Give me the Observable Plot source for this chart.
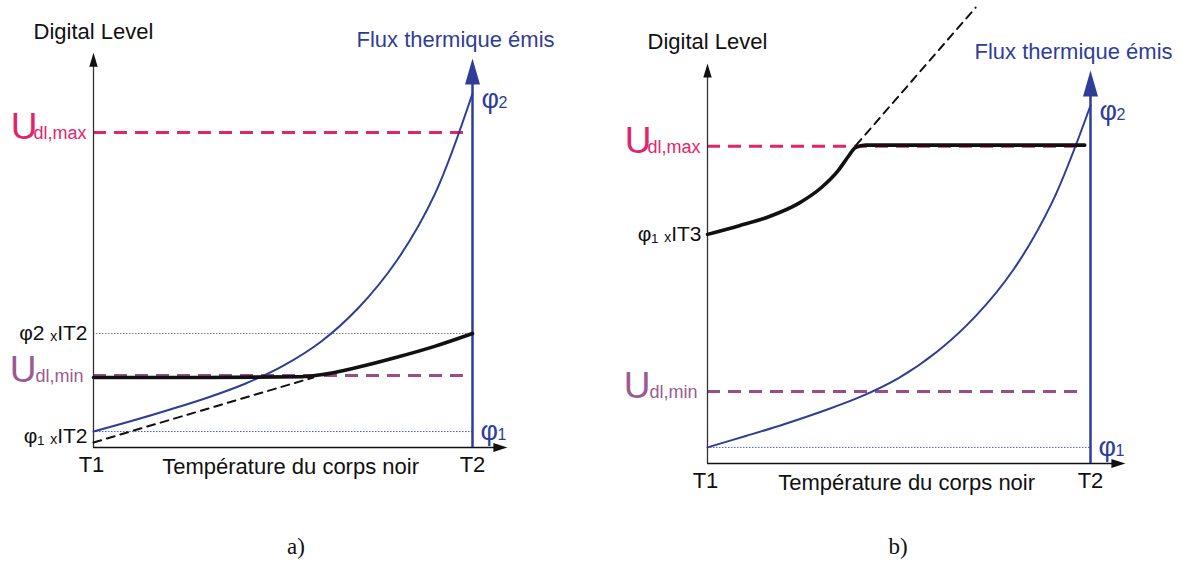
<!DOCTYPE html>
<html><head><meta charset="utf-8">
<script src="https://cdn.jsdelivr.net/npm/d3@7"></script>
<script src="https://cdn.jsdelivr.net/npm/@observablehq/plot@0.6"></script>
<style>
body{margin:0;background:#fff;}
#fig{position:relative;width:1181px;height:570px;background:#fff;}
.panel{position:absolute;top:0;}
.cap{position:absolute;top:534px;font-family:"Liberation Serif","Times New Roman",serif;font-size:23px;transform:translateX(-50%);color:#111;}
</style></head><body>
<div id="fig">
  <div id="pa" class="panel" style="left:0"></div>
  <div id="pb" class="panel" style="left:590px"></div>
  <div class="cap" style="left:296px">a)</div>
  <div class="cap" style="left:898px">b)</div>
</div>
<script>
// ---- data (x: T1 = 0 .. T2 = 1, y: relative digital level / flux) ----
const tGrid = [0, 0.1, 0.2, 0.3, 0.4, 0.5, 0.6, 0.7, 0.8, 0.9, 1];
const fluxA = [0.041, 0.068, 0.097, 0.128, 0.164, 0.21, 0.272, 0.36, 0.48, 0.65, 0.91];
const fluxB = [0.041, 0.07, 0.10, 0.133, 0.17, 0.218, 0.285, 0.375, 0.495, 0.665, 0.911];

const blackAT = [0, 0.3, 0.55, 0.6, 0.7, 0.8, 0.9, 1];
const blackAV = [0.18, 0.18, 0.182, 0.187, 0.207, 0.232, 0.26, 0.293];
const dashAT = [0, 0.58];
const dashAV = [0.013, 0.18];

const blackBT = [0, 0.083, 0.16, 0.238, 0.296, 0.34, 0.369, 0.386, 0.413, 0.985];
const blackBV = [0.583, 0.605, 0.628, 0.662, 0.701, 0.744, 0.783, 0.804, 0.81, 0.81];
const dashBT = [0.388, 0.70];
const dashBV = [0.81, 1.16];

const udlMaxA = 0.81, phi2IT2A = 0.293, udlMinA = 0.185, phi1A = 0.041;
const udlMaxB = 0.807, phi1IT3B = 0.583, udlMinB = 0.183, phi1B = 0.041;

const tickLabels = ["T1", "T2"];
const xTitle = "Température du corps noir";
const yTitle = "Digital Level";
const fluxTitle = "Flux thermique émis";

const PINK = "#e2246c", PURPLE = "#9a4c8d", PURPLE_T = "#9b5a93", BLUE = "#2f3d98", BLUEDOT = "#3d55c8", GRAY = "#7a7a7a";
const FONT = "Liberation Sans, Arial, sans-serif";

function pts(t, v) { return t.map((x, i) => ({x, y: v[i]})); }
function txt(x, y, text, o = {}) {
  return Plot.text([{x, y, text}], {x: "x", y: "y", text: "text", fontFamily: FONT, fontSize: 22, fill: "#111", ...o});
}
function tip(x, y, o) {
  return Plot.vector([{x, y}], {x: "x", y: "y", shape: "spike", anchor: "end", stroke: "none", ...o});
}

function drawPanel(p) {
  const marks = [
    ...p.dotted.map(d => Plot.ruleY([d.v], {x1: 0, x2: 1, stroke: d.c, strokeWidth: 1, strokeDasharray: "1.5,1.5"})),
    Plot.ruleY([p.udlMax], {x1: 0, x2: p.dashEnd, stroke: PINK, strokeWidth: 3, strokeDasharray: "13,8"}),
    Plot.ruleY([p.udlMin], {x1: 0, x2: p.dashEnd, stroke: PURPLE, strokeWidth: 3, strokeDasharray: "13,8"}),
    Plot.ruleX([0], {y1: 0, y2: p.yTip - 0.02, stroke: "#333", strokeWidth: 1.3}),
    Plot.ruleY([0], {x1: 0, x2: p.xTip - 0.02, stroke: "#111", strokeWidth: 1.6}),
    tip(0, p.yTip, {rotate: 0, length: 14, r: 4.2, fill: "#111"}),
    tip(p.xTip, 0, {rotate: 90, length: 14, r: 4.5, fill: "#111"}),
    Plot.ruleX([1], {y1: 0, y2: 0.95, stroke: BLUE, strokeWidth: 2.5}),
    tip(1, 1, {rotate: 0, length: 26, r: 7.5, fill: BLUE}),
    Plot.line(pts(p.dashT, p.dashV), {x: "x", y: "y", stroke: "#111", strokeWidth: 2, strokeDasharray: "8,6"}),
    Plot.line(pts(tGrid, p.flux), {x: "x", y: "y", stroke: BLUE, strokeWidth: 2, curve: "catmull-rom"}),
    Plot.line(pts(p.blackT, p.blackV), {x: "x", y: "y", stroke: "#111", strokeWidth: 3.6, curve: "monotone-x"}),
    txt(0, p.yTip, yTitle, {dy: -21}),
    txt(1, 1, fluxTitle, {dx: -17, dy: -19, fill: BLUE}),
    txt(0, 0, tickLabels[0], {dy: 17, dx: -2}),
    txt(1, 0, tickLabels[1], {dy: 17}),
    txt(0.52, 0, xTitle, {dy: 19}),
    txt(1, p.flux[p.flux.length - 1], "φ", {dx: 9, dy: 6, fontSize: 27, fill: BLUE, textAnchor: "start"}),
    txt(1, p.flux[p.flux.length - 1], "2", {dx: 26, dy: 9, fontSize: 16, fill: BLUE, textAnchor: "start"}),
    txt(1, p.phi1, "φ", {dx: 8, dy: 0, fontSize: 27, fill: BLUE, textAnchor: "start"}),
    txt(1, p.phi1, "1", {dx: 25, dy: 3, fontSize: 16, fill: BLUE, textAnchor: "start"}),
    txt(0, p.udlMax, "U", {dx: -56, dy: -5, fontSize: 37, fill: PINK, textAnchor: "end"}),
    txt(0, p.udlMax, "dl,max", {dx: -7, dy: 1, fontSize: 18, fill: PINK, textAnchor: "end"}),
    txt(0, p.udlMin, "U", {dx: -57, dy: -5, fontSize: 37, fill: PURPLE_T, textAnchor: "end"}),
    txt(0, p.udlMin, "dl,min", {dx: -10, dy: 1, fontSize: 18, fill: PURPLE_T, textAnchor: "end"}),
    ...p.sideLabels.map(s => txt(0, s.v, s.text, {dx: -6, dy: s.dy || 0, fontSize: 21, textAnchor: "end"}))
  ];
  return Plot.plot({
    width: p.width, height: 525,
    marginLeft: p.ml, marginRight: p.mr, marginTop: p.mt, marginBottom: p.mb,
    x: {domain: [0, 1], axis: null},
    y: {domain: [0, 1], axis: null},
    style: {overflow: "visible", background: "transparent", fontFamily: FONT},
    marks
  });
}

document.getElementById("pa").append(drawPanel({
  width: 590, ml: 93, mr: 118, mt: 58, mb: 78,
  flux: fluxA, blackT: blackAT, blackV: blackAV, dashT: dashAT, dashV: dashAV,
  udlMax: udlMaxA, udlMin: udlMinA, phi1: phi1A, dashEnd: 0.976,
  yTip: 1.015, xTip: 1.092,
  dotted: [{v: phi2IT2A, c: GRAY}, {v: phi1A, c: BLUEDOT}],
  sideLabels: [{v: phi2IT2A, text: "φ2 ₓIT2"}, {v: phi1A, text: "φ₁ ₓIT2", dy: 5}]
}));

document.getElementById("pb").append(drawPanel({
  width: 591, ml: 117, mr: 91, mt: 70, mb: 62,
  flux: fluxB, blackT: blackBT, blackV: blackBV, dashT: dashBT, dashV: dashBV,
  udlMax: udlMaxB, udlMin: udlMinB, phi1: phi1B, dashEnd: 0.974,
  yTip: 1.018, xTip: 1.091,
  dotted: [{v: phi1B, c: BLUEDOT}],
  sideLabels: [{v: phi1IT3B, text: "φ₁ ₓIT3"}]
}));
</script>
</body></html>
